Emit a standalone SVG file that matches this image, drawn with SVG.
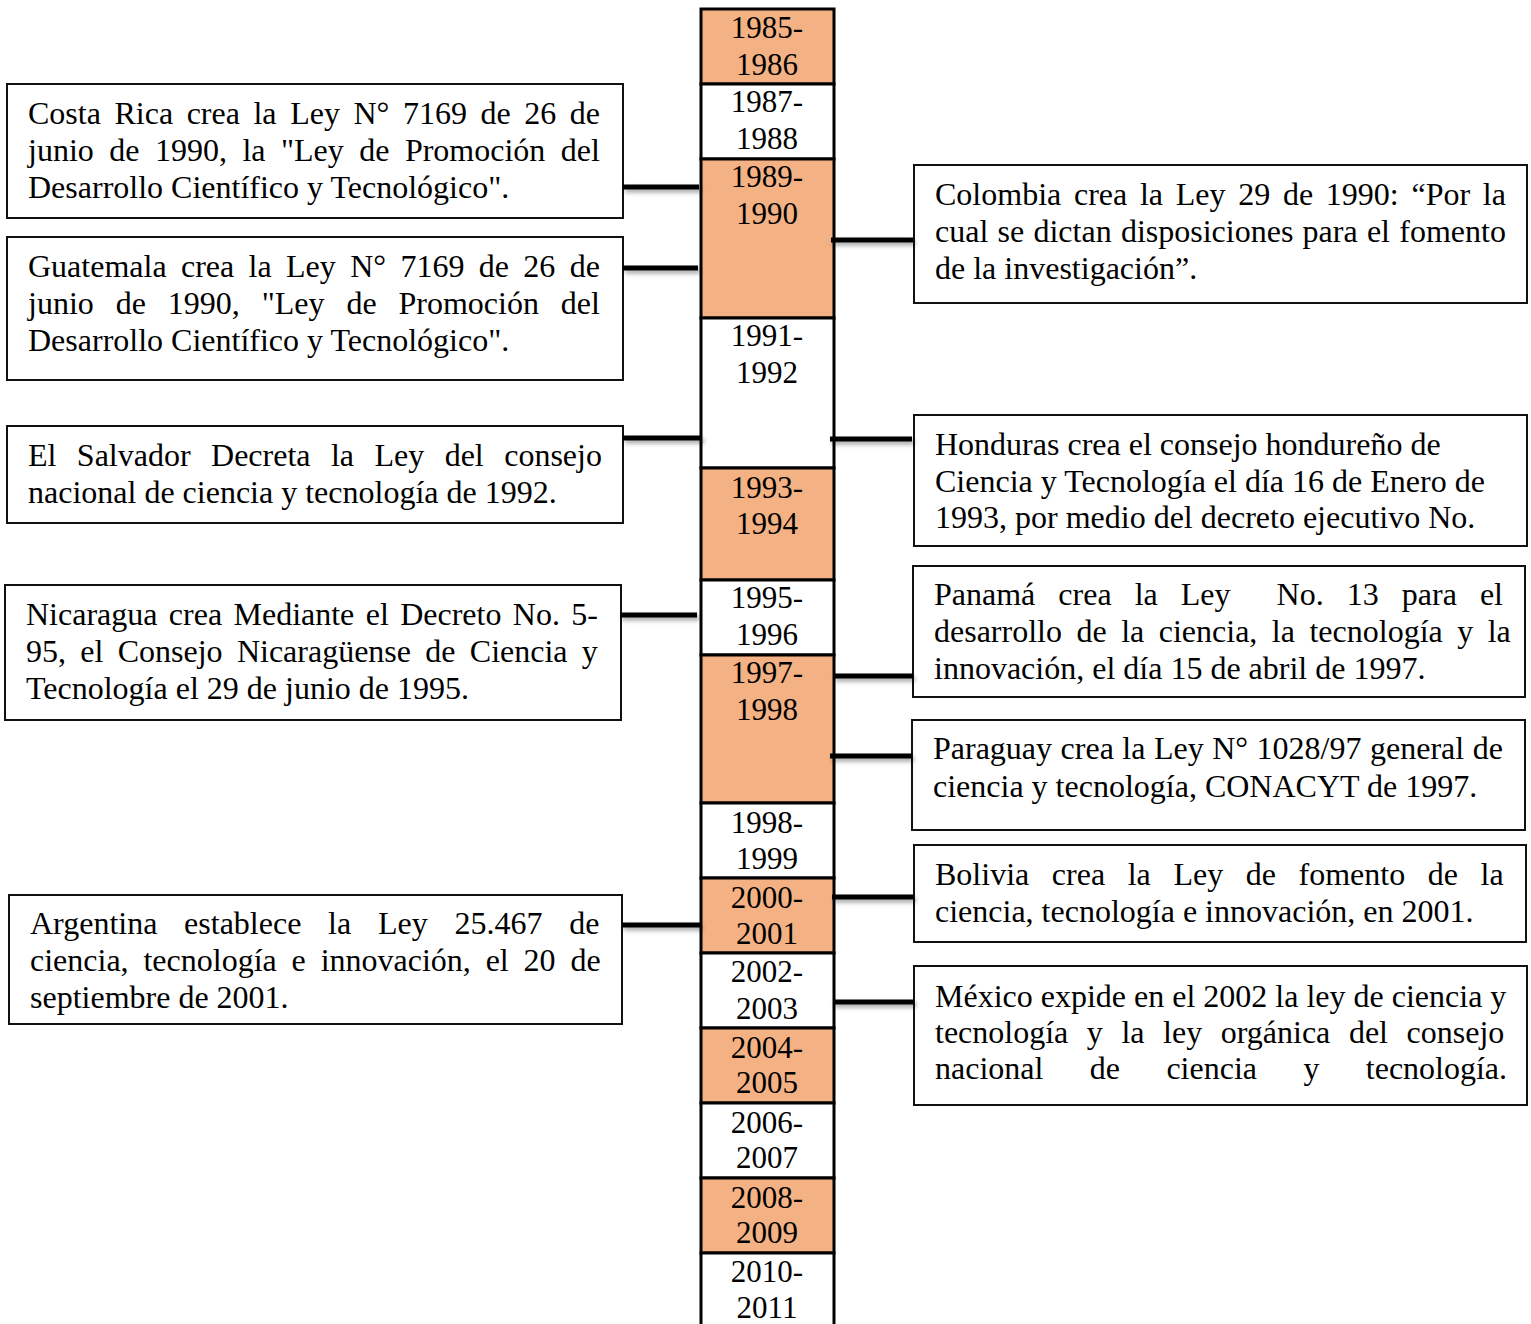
<svg xmlns="http://www.w3.org/2000/svg" width="1531" height="1324" viewBox="0 0 1531 1324">
<defs>
<style>
.cell{stroke:#000;stroke-width:3}
.o{fill:#F4B183}
.w{fill:#fff}
.yr{font-family:"Liberation Serif","Times New Roman",serif;font-size:31px;fill:#000;text-anchor:middle}
.box{fill:#fff;stroke:#111;stroke-width:2}
.t{font-family:"Liberation Serif","Times New Roman",serif;font-size:32px;fill:#000}
.conn line{stroke:#000;stroke-width:5}
</style>
<filter id="sh" x="-10%" y="-200%" width="130%" height="600%">
<feDropShadow dx="2" dy="3" stdDeviation="2" flood-color="#000" flood-opacity="0.35"/>
</filter>
</defs>
<rect width="1531" height="1324" fill="#fff"/>

<g id="timeline">
<rect class="cell o" x="701" y="9" width="133" height="75"/>
<text class="yr" x="767" y="38">1985-</text><text class="yr" x="767" y="75">1986</text>
<rect class="cell w" x="701" y="84" width="133" height="75"/>
<text class="yr" x="767" y="112">1987-</text><text class="yr" x="767" y="149">1988</text>
<rect class="cell o" x="701" y="159" width="133" height="159"/>
<text class="yr" x="767" y="187">1989-</text><text class="yr" x="767" y="224">1990</text>
<rect class="cell w" x="701" y="318" width="133" height="150"/>
<text class="yr" x="767" y="346">1991-</text><text class="yr" x="767" y="383">1992</text>
<rect class="cell o" x="701" y="468" width="133" height="112"/>
<text class="yr" x="767" y="498">1993-</text><text class="yr" x="767" y="534">1994</text>
<rect class="cell w" x="701" y="580" width="133" height="75"/>
<text class="yr" x="767" y="608">1995-</text><text class="yr" x="767" y="645">1996</text>
<rect class="cell o" x="701" y="655" width="133" height="148"/>
<text class="yr" x="767" y="683">1997-</text><text class="yr" x="767" y="720">1998</text>
<rect class="cell w" x="701" y="803" width="133" height="75"/>
<text class="yr" x="767" y="833">1998-</text><text class="yr" x="767" y="869">1999</text>
<rect class="cell o" x="701" y="878" width="133" height="75"/>
<text class="yr" x="767" y="908">2000-</text><text class="yr" x="767" y="944">2001</text>
<rect class="cell w" x="701" y="953" width="133" height="75"/>
<text class="yr" x="767" y="982">2002-</text><text class="yr" x="767" y="1019">2003</text>
<rect class="cell o" x="701" y="1028" width="133" height="75"/>
<text class="yr" x="767" y="1058">2004-</text><text class="yr" x="767" y="1093">2005</text>
<rect class="cell w" x="701" y="1103" width="133" height="75"/>
<text class="yr" x="767" y="1133">2006-</text><text class="yr" x="767" y="1168">2007</text>
<rect class="cell o" x="701" y="1178" width="133" height="75"/>
<text class="yr" x="767" y="1208">2008-</text><text class="yr" x="767" y="1243">2009</text>
<rect class="cell w" x="701" y="1253" width="133" height="90"/>
<text class="yr" x="767" y="1282">2010-</text><text class="yr" x="767" y="1318">2011</text>
</g>

<g id="costa-rica">
<rect class="box" x="7" y="84" width="616" height="134"/>
<text class="t" x="28" y="124" style="word-spacing:5.56px">Costa Rica crea la Ley N° 7169 de 26 de</text>
<text class="t" x="28" y="161" style="word-spacing:7.47px">junio de 1990, la "Ley de Promoción del</text>
<text class="t" x="28" y="198">Desarrollo Científico y Tecnológico".</text>
</g>

<g id="guatemala">
<rect class="box" x="7" y="237" width="616" height="143"/>
<text class="t" x="28" y="277" style="word-spacing:6.36px">Guatemala crea la Ley N° 7169 de 26 de</text>
<text class="t" x="28" y="314" style="word-spacing:13.9px">junio de 1990, "Ley de Promoción del</text>
<text class="t" x="28" y="351">Desarrollo Científico y Tecnológico".</text>
</g>

<g id="el-salvador">
<rect class="box" x="7" y="426" width="616" height="97"/>
<text class="t" x="28" y="466" style="word-spacing:12.43px">El Salvador Decreta la Ley del consejo</text>
<text class="t" x="28" y="503">nacional de ciencia y tecnología de 1992.</text>
</g>

<g id="nicaragua">
<rect class="box" x="5" y="585" width="616" height="135"/>
<text class="t" x="26" y="625" style="word-spacing:3.37px">Nicaragua crea Mediante el Decreto No. 5-</text>
<text class="t" x="26" y="662" style="word-spacing:6.3px">95, el Consejo Nicaragüense de Ciencia y</text>
<text class="t" x="26" y="699">Tecnología el 29 de junio de 1995.</text>
</g>

<g id="argentina">
<rect class="box" x="9" y="895" width="613" height="129"/>
<text class="t" x="30" y="934" style="word-spacing:18.74px">Argentina establece la Ley 25.467 de</text>
<text class="t" x="30" y="971" style="word-spacing:6.85px">ciencia, tecnología e innovación, el 20 de</text>
<text class="t" x="30" y="1008">septiembre de 2001.</text>
</g>

<g id="colombia">
<rect class="box" x="914" y="165" width="613" height="138"/>
<text class="t" x="935" y="205" style="word-spacing:4.72px">Colombia crea la Ley 29 de 1990: “Por la</text>
<text class="t" x="935" y="242" style="word-spacing:1.25px">cual se dictan disposiciones para el fomento</text>
<text class="t" x="935" y="279">de la investigación”.</text>
</g>

<g id="honduras">
<rect class="box" x="914" y="415" width="613" height="131"/>
<text class="t" x="935" y="455">Honduras crea el consejo hondureño de</text>
<text class="t" x="935" y="492">Ciencia y Tecnología el día 16 de Enero de</text>
<text class="t" x="935" y="528">1993, por medio del decreto ejecutivo No.</text>
</g>

<g id="panama">
<rect class="box" x="913" y="566" width="612" height="131"/>
<text class="t" x="934" y="605" xml:space="preserve" style="word-spacing:15.04px;white-space:pre">Panamá crea la Ley  No. 13 para el</text>
<text class="t" x="934" y="642" style="word-spacing:6.5px">desarrollo de la ciencia, la tecnología y la</text>
<text class="t" x="934" y="679">innovación, el día 15 de abril de 1997.</text>
</g>

<g id="paraguay">
<rect class="box" x="912" y="720" width="613" height="110"/>
<text class="t" x="933" y="759" style="word-spacing:0.5px">Paraguay crea la Ley N° 1028/97 general de</text>
<text class="t" x="933" y="797">ciencia y tecnología, CONACYT de 1997.</text>
</g>

<g id="bolivia">
<rect class="box" x="914" y="845" width="612" height="97"/>
<text class="t" x="935" y="885" style="word-spacing:14.6px">Bolivia crea la Ley de fomento de la</text>
<text class="t" x="935" y="922">ciencia, tecnología e innovación, en 2001.</text>
</g>

<g id="mexico">
<rect class="box" x="914" y="966" width="613" height="139"/>
<text class="t" x="935" y="1007" style="word-spacing:0px">México expide en el 2002 la ley de ciencia y</text>
<text class="t" x="935" y="1043" style="word-spacing:10.57px">tecnología y la ley orgánica del consejo</text>
<text class="t" x="935" y="1079" style="word-spacing:38.4px">nacional de ciencia y tecnología.</text>
</g>

<g id="connectors" class="conn" filter="url(#sh)">
<line x1="623" y1="187" x2="699" y2="187"/>
<line x1="623" y1="268" x2="698" y2="268"/>
<line x1="831" y1="240" x2="913" y2="240"/>
<line x1="623" y1="438" x2="702" y2="438"/>
<line x1="830" y1="439" x2="912" y2="439"/>
<line x1="620" y1="615" x2="697" y2="615"/>
<line x1="833" y1="676" x2="913" y2="676"/>
<line x1="830" y1="756" x2="912" y2="756"/>
<line x1="832" y1="897" x2="914" y2="897"/>
<line x1="622" y1="925" x2="700" y2="925"/>
<line x1="833" y1="1002" x2="914" y2="1002"/>
</g>
</svg>
